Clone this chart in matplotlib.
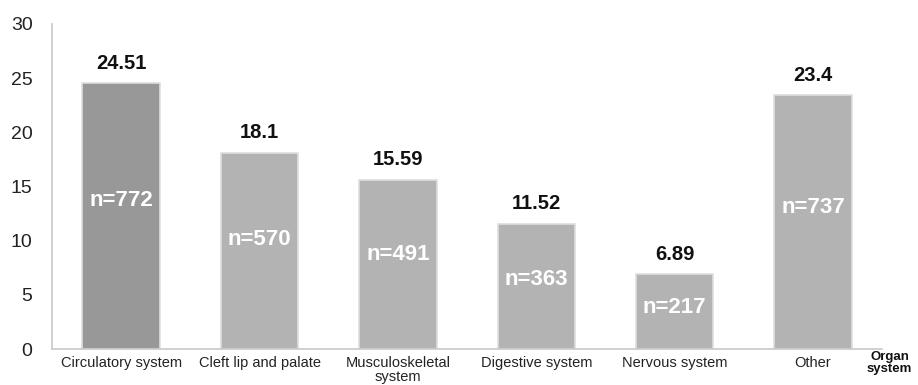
import matplotlib.pyplot as plt

# share of anomalies per organ system
categories = ['Circulatory system', 'Cleft lip and palate', 'Musculoskeletal\nsystem',
              'Digestive system', 'Nervous system', 'Other']
percent = [24.51, 18.1, 15.59, 11.52, 6.89, 23.4]
value_labels = ['24.51', '18.1', '15.59', '11.52', '6.89', '23.4']
counts = [772, 570, 491, 363, 217, 737]
bar_colors = ['#989898', '#b3b3b3', '#b3b3b3', '#b3b3b3', '#b3b3b3', '#b3b3b3']

plt.rcParams['font.family'] = ['Liberation Sans', 'DejaVu Sans']

fig = plt.figure(figsize=(9.18, 3.85), dpi=100)
ax = fig.add_axes([0.0566, 0.0935, 0.9044, 0.8442])

x = range(len(categories))
ax.bar(x, percent, width=0.56, color=bar_colors, edgecolor='#dedede', linewidth=1.2)

for i in x:
    ax.text(i, percent[i] + 1.0, value_labels[i], ha='center', va='bottom',
            fontsize=14.5, fontweight='bold', color='#111111')
    ax.text(i, percent[i] * 0.56, 'n=%d' % counts[i], ha='center', va='center',
            fontsize=16, fontweight='bold', color='white')

ax.set_xlim(-0.5, 5.5)
ax.set_ylim(0, 30)
ax.set_yticks([0, 5, 10, 15, 20, 25, 30])
ax.set_xticks(list(x))
ax.set_xticklabels(categories, fontsize=10.5, color='#222222', linespacing=1.0)
ax.tick_params(axis='y', labelsize=14, length=0, pad=14, colors='#222222')
ax.tick_params(axis='x', length=0, pad=5)

for side in ['top', 'right']:
    ax.spines[side].set_visible(False)
ax.spines['left'].set_color('#c8c8c8')
ax.spines['bottom'].set_color('#c8c8c8')
ax.spines['left'].set_linewidth(1.2)
ax.spines['bottom'].set_linewidth(1.2)

fig.text(0.969, 0.088, 'Organ\nsystem', ha='center', va='top', fontsize=9.5,
         fontweight='bold', color='#111111', linespacing=1.0)

fig.savefig('out.png', dpi=100)
